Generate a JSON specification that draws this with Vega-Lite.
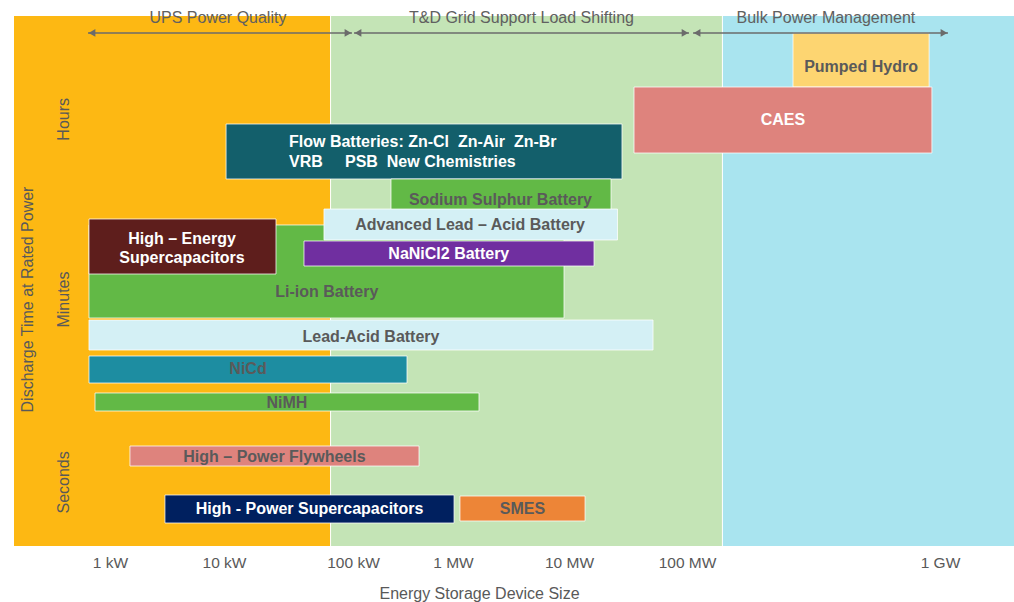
{
  "$schema": "https://vega.github.io/schema/vega-lite/v6.json",
  "width": 1000,
  "height": 530,
  "autosize": "none",
  "padding": {"left": 14, "top": 16, "right": 0, "bottom": 56},
  "background": "white",
  "config": {"view": {"stroke": null}, "font": "Liberation Sans"},
  "datasets": {
    "zones": [
      {"zone": "UPS", "x1": -1, "x2": 1.822, "y1": 0, "y2": 100},
      {"zone": "T&D", "x1": 1.83, "x2": 5.138, "y1": 0, "y2": 100},
      {"zone": "Bulk", "x1": 5.142, "x2": 6.5, "y1": 0, "y2": 100}
    ],
    "regions": [
      {"label": "UPS Power Quality", "x": 0.947, "y": 99.6},
      {"label": "T&D Grid Support Load Shifting", "x": 3.59, "y": 99.6},
      {"label": "Bulk Power Management", "x": 5.549, "y": 99.6}
    ],
    "arrows": [
      {"x1": -0.229, "x2": 1.992, "y": 96.8},
      {"x1": 2.01, "x2": 5.008, "y": 96.8},
      {"x1": 5.024, "x2": 6.054, "y": 96.8}
    ],
    "bars": [
      {"name": "Pumped Hydro", "x1": 5.419, "x2": 5.957, "y1": 86.6, "y2": 96.8},
      {"name": "CAES", "x1": 4.551, "x2": 5.968, "y1": 74.15, "y2": 86.6},
      {"name": "Flow Batteries", "x1": 1.016, "x2": 4.449, "y1": 69.25, "y2": 79.62},
      {"name": "Sodium Sulphur Battery", "x1": 2.38, "x2": 4.356, "y1": 62.64, "y2": 69.25},
      {"name": "Li-ion Battery", "x1": -0.219, "x2": 3.957, "y1": 43.02, "y2": 60.57},
      {"name": "Advanced Lead-Acid Battery", "x1": 1.775, "x2": 4.411, "y1": 57.74, "y2": 63.58},
      {"name": "High-Energy Supercapacitors", "x1": -0.219, "x2": 1.403, "y1": 51.32, "y2": 61.7},
      {"name": "NaNiCl2 Battery", "x1": 1.62, "x2": 4.212, "y1": 52.83, "y2": 57.55},
      {"name": "Lead-Acid Battery", "x1": -0.219, "x2": 4.712, "y1": 36.98, "y2": 42.64},
      {"name": "NiCd", "x1": -0.219, "x2": 2.54, "y1": 30.75, "y2": 35.85},
      {"name": "NiMH", "x1": -0.156, "x2": 3.224, "y1": 25.47, "y2": 28.87},
      {"name": "High-Power Flywheels", "x1": 0.175, "x2": 2.66, "y1": 15.09, "y2": 18.87},
      {"name": "High-Power Supercapacitors", "x1": 0.482, "x2": 3.009, "y1": 4.34, "y2": 9.62},
      {"name": "SMES", "x1": 3.06, "x2": 4.136, "y1": 4.72, "y2": 9.43}
    ],
    "labels": [
      {"bar": "Pumped Hydro", "text": "Pumped Hydro", "lx": 5.688, "ly": 90.4, "tone": "dark"},
      {"bar": "CAES", "text": "CAES", "lx": 5.379, "ly": 80.4, "tone": "light"},
      {"bar": "Flow Batteries", "text": "Flow Batteries: Zn-Cl \u00a0Zn-Air \u00a0Zn-Br", "lx": 1.504, "ly": 76.28, "tone": "light"},
      {"bar": "Flow Batteries", "text": "VRB \u00a0\u00a0\u00a0\u00a0PSB \u00a0New Chemistries", "lx": 1.504, "ly": 72.51, "tone": "light"},
      {"bar": "Sodium Sulphur Battery", "text": "Sodium Sulphur Battery", "lx": 3.409, "ly": 65.28, "tone": "dark"},
      {"bar": "Advanced Lead-Acid Battery", "text": "Advanced Lead – Acid Battery", "lx": 3.147, "ly": 60.57, "tone": "dark"},
      {"bar": "High-Energy Supercapacitors", "text": "High – Energy", "lx": 0.632, "ly": 57.92, "tone": "light"},
      {"bar": "High-Energy Supercapacitors", "text": "Supercapacitors", "lx": 0.632, "ly": 54.4, "tone": "light"},
      {"bar": "NaNiCl2 Battery", "text": "NaNiCl2 Battery", "lx": 2.958, "ly": 55.04, "tone": "light"},
      {"bar": "Li-ion Battery", "text": "Li-ion Battery", "lx": 1.797, "ly": 47.99, "tone": "dark"},
      {"bar": "Lead-Acid Battery", "text": "Lead-Acid Battery", "lx": 2.18, "ly": 39.5, "tone": "dark"},
      {"bar": "NiCd", "text": "NiCd", "lx": 1.186, "ly": 33.33, "tone": "dark"},
      {"bar": "NiMH", "text": "NiMH", "lx": 1.488, "ly": 27.04, "tone": "dark"},
      {"bar": "High-Power Flywheels", "text": "High – Power Flywheels", "lx": 1.391, "ly": 16.86, "tone": "dark"},
      {"bar": "High-Power Supercapacitors", "text": "High - Power Supercapacitors", "lx": 1.663, "ly": 6.92, "tone": "light"},
      {"bar": "SMES", "text": "SMES", "lx": 3.599, "ly": 6.92, "tone": "dark"}
    ]
  },
  "layer": [
    {
      "data": {"name": "zones"},
      "mark": {"type": "rect"},
      "encoding": {
        "x": {
          "field": "x1", "type": "quantitative",
          "scale": {"domain": [-1, 0, 1, 2, 3, 4, 5, 6, 6.5], "range": [0, 96, 210, 339, 439, 555, 673, 926, 1000], "nice": false, "zero": false},
          "axis": {
            "values": [0, 1, 2, 3, 4, 5, 6],
            "labelExpr": "['1 kW','10 kW','100 kW','1 MW','10 MW','100 MW','1 GW'][datum.value]",
            "domain": false, "ticks": false, "tickSize": 0, "grid": false,
            "labelPadding": 16, "labelBaseline": "middle", "labelFontSize": 15.5, "labelColor": "#595959",
            "labelFont": "Liberation Sans", "labelFlush": false, "labelOverlap": false,
            "title": "Energy Storage Device Size", "titleFont": "Liberation Sans", "titleFontSize": 16, "titleFontWeight": "normal",
            "titleColor": "#595959", "titleX": 465, "titleY": 47, "titleBaseline": "middle", "titleAlign": "center", "zindex": 1
          }
        },
        "x2": {"field": "x2"},
        "y": {
          "field": "y1", "type": "quantitative",
          "scale": {"domain": [0, 100], "nice": false, "zero": false},
          "axis": {
            "values": [12.1, 46.6, 80.6],
            "labelExpr": "datum.value < 30 ? 'Seconds' : datum.value < 60 ? 'Minutes' : 'Hours'",
            "labelAngle": -90, "labelAlign": "center", "labelBaseline": "bottom",
            "labelFontSize": 16, "labelColor": "#595959", "labelFont": "Liberation Sans",
            "domain": false, "ticks": false, "tickSize": 0, "grid": false, "labelPadding": 0,
            "labelFlush": false, "labelOverlap": false, "offset": -57,
            "title": "Discharge Time at Rated Power", "titleFont": "Liberation Sans", "titleFontSize": 16, "titleFontWeight": "normal",
            "titleColor": "#595959", "titleAngle": -90, "titleX": -44, "titleY": 283, "titleAlign": "center", "titleBaseline": "middle",
            "zindex": 1
          }
        },
        "y2": {"field": "y2"},
        "fill": {
          "field": "zone", "type": "nominal",
          "scale": {"domain": ["UPS", "T&D", "Bulk"], "range": ["#FDB813", "#C4E4B6", "#A9E4EF"]},
          "legend": null
        }
      }
    },
    {
      "data": {"name": "bars"},
      "mark": {"type": "rect", "stroke": "#ffffff", "strokeWidth": 1, "strokeOpacity": 0.75},
      "encoding": {
        "x": {"field": "x1", "type": "quantitative", "axis": null},
        "x2": {"field": "x2"},
        "y": {"field": "y1", "type": "quantitative", "axis": null},
        "y2": {"field": "y2"},
        "fill": {
          "field": "name", "type": "nominal",
          "scale": {
            "domain": ["Pumped Hydro", "CAES", "Flow Batteries", "Sodium Sulphur Battery", "Li-ion Battery", "Advanced Lead-Acid Battery", "High-Energy Supercapacitors", "NaNiCl2 Battery", "Lead-Acid Battery", "NiCd", "NiMH", "High-Power Flywheels", "High-Power Supercapacitors", "SMES"],
            "range": ["#FDD571", "#DE837D", "#135F6B", "#62B946", "#62B946", "#D4F0F5", "#5E1E1C", "#702FA0", "#D4F0F5", "#1D8DA1", "#62B946", "#DE837D", "#00205F", "#ED8537"]
          },
          "legend": null
        }
      }
    },
    {
      "data": {"name": "arrows"},
      "mark": {"type": "rule", "color": "#6b6b6b", "strokeWidth": 1.5},
      "encoding": {
        "x": {"field": "x1", "type": "quantitative", "axis": null},
        "x2": {"field": "x2"},
        "y": {"field": "y", "type": "quantitative", "axis": null}
      }
    },
    {
      "data": {"name": "arrows"},
      "mark": {"type": "point", "shape": "triangle-left", "filled": true, "size": 60, "color": "#6b6b6b", "opacity": 1, "xOffset": 4},
      "encoding": {
        "x": {"field": "x1", "type": "quantitative", "axis": null},
        "y": {"field": "y", "type": "quantitative", "axis": null}
      }
    },
    {
      "data": {"name": "arrows"},
      "mark": {"type": "point", "shape": "triangle-right", "filled": true, "size": 60, "color": "#6b6b6b", "opacity": 1, "xOffset": -4},
      "encoding": {
        "x": {"field": "x2", "type": "quantitative", "axis": null},
        "y": {"field": "y", "type": "quantitative", "axis": null}
      }
    },
    {
      "data": {"name": "regions"},
      "mark": {"type": "text", "font": "Liberation Sans", "fontSize": 16, "color": "#606060", "align": "center", "baseline": "middle"},
      "encoding": {
        "x": {"field": "x", "type": "quantitative", "axis": null},
        "y": {"field": "y", "type": "quantitative", "axis": null},
        "text": {"field": "label"}
      }
    },
    {
      "data": {"name": "labels"},
      "transform": [{"filter": "datum.bar != 'Flow Batteries'"}],
      "mark": {"type": "text", "font": "Liberation Sans", "fontSize": 16, "fontWeight": "bold", "align": "center", "baseline": "middle"},
      "encoding": {
        "x": {"field": "lx", "type": "quantitative", "axis": null},
        "y": {"field": "ly", "type": "quantitative", "axis": null},
        "text": {"field": "text"},
        "color": {"field": "tone", "type": "nominal", "scale": {"domain": ["light", "dark"], "range": ["#ffffff", "#5a5a5a"]}, "legend": null}
      }
    },
    {
      "data": {"name": "labels"},
      "transform": [{"filter": "datum.bar == 'Flow Batteries'"}],
      "mark": {"type": "text", "font": "Liberation Sans", "fontSize": 16, "fontWeight": "bold", "align": "left", "baseline": "middle"},
      "encoding": {
        "x": {"field": "lx", "type": "quantitative", "axis": null},
        "y": {"field": "ly", "type": "quantitative", "axis": null},
        "text": {"field": "text"},
        "color": {"field": "tone", "type": "nominal", "scale": {"domain": ["light", "dark"], "range": ["#ffffff", "#5a5a5a"]}, "legend": null}
      }
    }
  ],
  "resolve": {"scale": {"color": "independent", "fill": "independent"}, "axis": {"x": "independent", "y": "independent"}}
}
